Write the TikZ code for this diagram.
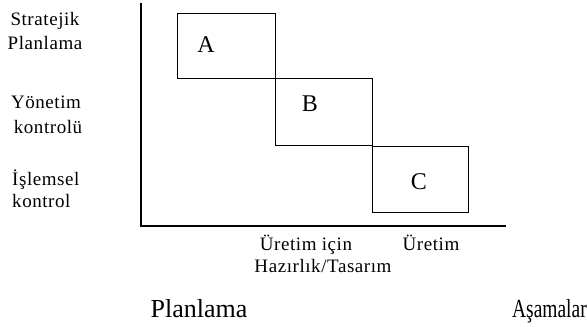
\documentclass[tikz,border=0pt]{standalone}
\usepackage{fontspec}
\setmainfont{Liberation Serif}
\begin{document}
\begin{tikzpicture}[x=1pt,y=-1pt,
  lbl/.style={font=\fontsize{19}{23}\selectfont\addfontfeature{LetterSpace=3}, inner sep=0pt, anchor=base},
  big/.style={font=\fontsize{26}{30}\selectfont, inner sep=0pt, anchor=base},
  letter/.style={font=\fontsize{24}{28}\selectfont, inner sep=0pt},
  box/.style={draw, line width=1pt},
  ax/.style={line width=1.4pt}]
\useasboundingbox (0,0) rectangle (587,327);
\coordinate (top) at (141,3);
\coordinate (orig) at (141,226);
\coordinate (xend) at (506,226);
\draw[ax] (top) -- (orig) -- (xend);
\node[box, minimum width=98pt, minimum height=65pt, anchor=north west] (boxA) at (177,13) {};
\node[box, minimum width=97pt, minimum height=67pt, anchor=north west] (boxB) at (275,78) {};
\node[box, minimum width=96pt, minimum height=66pt, anchor=north west] (boxC) at (372,146) {};
\node[letter] (A) at (206,45) {A};
\node[letter] (B) at (310,104) {B};
\node[letter] (C) at (419,182) {C};
\node[lbl] (s1a) at (45,25) {Stratejik};
\node[lbl] (s1b) at (45,49) {Planlama};
\node[lbl] (s2a) at (46,108) {Yönetim};
\node[lbl] (s2b) at (48,133) {kontrolü};
\node[lbl, anchor=base west] (s3a) at (12,185) {İşlemsel};
\node[lbl, anchor=base west] (s3b) at (12,207) {kontrol};
\node[lbl] (x1a) at (306,250) {Üretim için};
\node[lbl] (x1b) at (323,272) {Hazırlık/Tasarım};
\node[lbl] (x2) at (431,250) {Üretim};
\node[big] (pl) at (199,317) {Planlama};
\node[big, anchor=base east] (as) at (587,317) {\scalebox{0.75}[1]{Aşamalar}};
\end{tikzpicture}
\end{document}
